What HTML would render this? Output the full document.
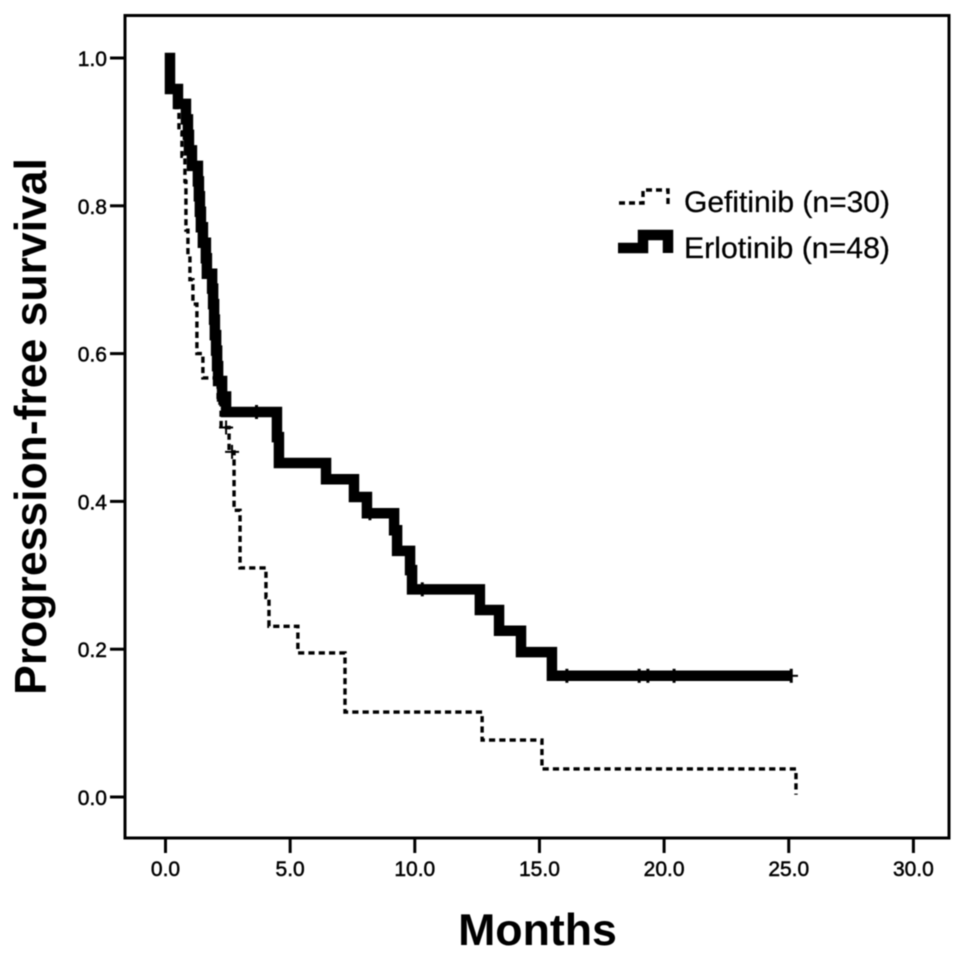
<!DOCTYPE html>
<html>
<head>
<meta charset="utf-8">
<style>
html,body{margin:0;padding:0;background:#fff;width:969px;height:958px;overflow:hidden}
svg{display:block}
text{font-family:"Liberation Sans",sans-serif;fill:#000}
</style>
</head>
<body>
<svg id="chart" width="969" height="958" viewBox="0 0 969 958" xmlns="http://www.w3.org/2000/svg">
<defs><filter id="soft" x="-5%" y="-5%" width="110%" height="110%"><feGaussianBlur stdDeviation="0.45"/></filter></defs>
<rect width="969" height="958" fill="#fff"/>
<g id="root" filter="url(#soft)"></g>
</svg>
<script>
const xTicks = [0, 5, 10, 15, 20, 25, 30];
const yTicks = [0, 0.2, 0.4, 0.6, 0.8, 1.0];
const erlotinibTimes = [0.18,0.18,0.5,0.82,0.9,0.94,1.06,1.3,1.34,1.38,1.42,1.5,1.62,1.66,1.87,1.91,1.95,1.98,2.03,2.07,2.11,2.27,2.43,4.47,4.55,6.44,7.56,8.08,9.17,9.29,9.81,9.89,12.61,13.38,14.26,15.5,24.9,25.37];
const erlotinibSurvival = [1,0.979,0.958,0.938,0.917,0.896,0.875,0.854,0.833,0.813,0.792,0.771,0.75,0.729,0.708,0.688,0.667,0.646,0.625,0.604,0.583,0.563,0.542,0.521,0.487,0.452,0.43,0.406,0.384,0.361,0.333,0.307,0.281,0.253,0.225,0.196,0.164,0.164];
const erlotinibCensorTimes = [3.65,8.2,10.3,16.1,19.0,19.35,20.4,25.1];
const erlotinibCensorSurvival = [0.521,0.384,0.281,0.164,0.164,0.164,0.164,0.164];
const gefitinibTimes = [0.26,0.42,0.54,0.66,0.78,0.82,0.82,0.9,0.98,1.1,1.26,1.26,1.5,2.11,2.23,2.55,2.75,2.99,4.03,4.15,5.31,7.2,12.7,15.1,25.29,25.29];
const gefitinibSurvival = [1,0.967,0.933,0.9,0.867,0.833,0.8,0.767,0.733,0.7,0.667,0.633,0.6,0.567,0.533,0.5,0.467,0.388,0.31,0.27,0.231,0.195,0.115,0.077,0.038,0.003];
const gefitinibCensorTimes = [2.43,2.67];
const gefitinibCensorSurvival = [0.5,0.467];

const NS = 'http://www.w3.org/2000/svg';
const root = document.getElementById('root');
const xScale = t => 165.5 + t * 24.93;
const yScale = s => 797 - s * 739;

function mk(tag, attrs, parent) {
  const el = document.createElementNS(NS, tag);
  for (const k in attrs) el.setAttribute(k, attrs[k]);
  (parent || root).appendChild(el);
  return el;
}
function stepPath(times, surv) {
  let d = 'M' + xScale(times[0]) + ' ' + yScale(surv[0]);
  for (let i = 1; i < times.length; i++) {
    d += 'V' + yScale(surv[i]) + 'H' + xScale(times[i]);
  }
  return d;
}

const frame = mk('rect', {x:125, y:15.5, width:824, height:822.5, fill:'none', stroke:'#000', 'stroke-width':3});



xTicks.forEach(v => {
  const x = xScale(v);
  const tick = mk('line', {x1:x, x2:x, y1:838, y2:853, stroke:'#000', 'stroke-width':3});
  
  
  const label = mk('text', {x:x, y:876, 'text-anchor':'middle', 'font-size':21, stroke:'#000', 'stroke-width':0.5});
  
  
  label.textContent = v.toFixed(1);
});
yTicks.forEach(v => {
  const y = yScale(v);
  const tick = mk('line', {x1:110, x2:125, y1:y, y2:y, stroke:'#000', 'stroke-width':3});
  
  
  const label = mk('text', {x:107, y:y + 8, 'text-anchor':'end', 'font-size':21, stroke:'#000', 'stroke-width':0.5});
  
  
  label.textContent = v.toFixed(1);
});

const gLine = mk('path', {d:stepPath(gefitinibTimes, gefitinibSurvival), fill:'none', stroke:'#000', 'stroke-width':3.4, 'stroke-dasharray':'6.2 4.1'});



gefitinibCensorTimes.forEach((t, i) => {
  const x = xScale(t), y = yScale(gefitinibCensorSurvival[i]);
  const c = mk('path', {d:'M' + (x - 7) + ' ' + y + 'h14M' + x + ' ' + (y - 7) + 'v14', stroke:'#000', 'stroke-width':2, fill:'none'});
  
  
});

const lastIdx = erlotinibTimes.length - 1;
const eLine = mk('path', {d:stepPath(erlotinibTimes.slice(0, lastIdx), erlotinibSurvival.slice(0, lastIdx)), fill:'none', stroke:'#000', 'stroke-width':10.5, 'stroke-linejoin':'miter', 'stroke-linecap':'square'});



const eTail = mk('line', {x1:xScale(erlotinibTimes[lastIdx - 1]), x2:xScale(erlotinibTimes[lastIdx]), y1:yScale(erlotinibSurvival[lastIdx]), y2:yScale(erlotinibSurvival[lastIdx]), stroke:'#000', 'stroke-width':2});



erlotinibCensorTimes.forEach((t, i) => {
  const x = xScale(t), y = yScale(erlotinibCensorSurvival[i]);
  const c = mk('line', {x1:x, x2:x, y1:y - 7, y2:y + 7, stroke:'#000', 'stroke-width':3});
  
  
});

const legendG = mk('path', {d:'M619 203H643V190H668V205', fill:'none', stroke:'#000', 'stroke-width':3.4, 'stroke-dasharray':'6 4'});


const legendE = mk('path', {d:'M618 248H643V235H668V253', fill:'none', stroke:'#000', 'stroke-width':10.5});



const legendGText = mk('text', {x:684, y:212, 'font-size':30, textLength:206, lengthAdjust:'spacingAndGlyphs', stroke:'#000', 'stroke-width':0.25});


legendGText.textContent = 'Gefitinib (n=30)';
const legendEText = mk('text', {x:684, y:258, 'font-size':30, textLength:206, lengthAdjust:'spacingAndGlyphs', stroke:'#000', 'stroke-width':0.25});


legendEText.textContent = 'Erlotinib (n=48)';

const xTitle = mk('text', {x:537.5, y:945, 'text-anchor':'middle', 'font-size':44.7, 'font-weight':'bold'});


xTitle.textContent = 'Months';
const yTitle = mk('text', {transform:'translate(46,426.5) rotate(-90)', x:0, y:0, 'text-anchor':'middle', 'font-size':44.5, 'font-weight':'bold'});


yTitle.textContent = 'Progression-free survival';
</script>
</body>
</html>
